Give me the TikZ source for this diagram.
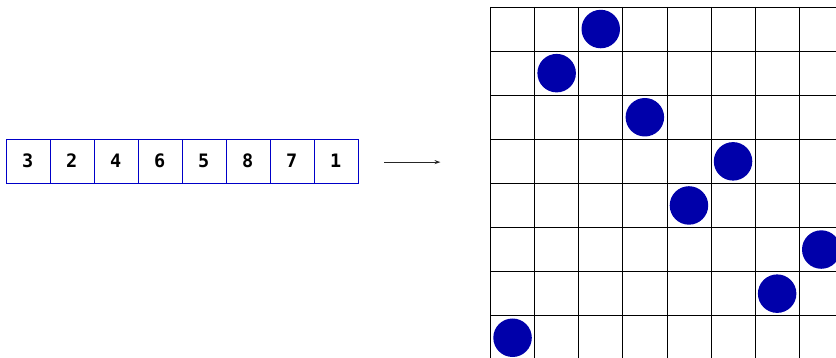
\documentclass[tikz,border=0pt]{standalone}
\usepackage{fontspec}
\newfontfamily\digitfont{DejaVu Sans Mono}
\usetikzlibrary{arrows.meta}
\definecolor{boxblue}{RGB}{0,0,200}
\definecolor{dotblue}{RGB}{0,0,170}
\tikzset{
  cell/.style={draw=boxblue, line width=0.9pt, minimum width=44pt, minimum height=43.7pt,
    inner sep=0pt, font=\digitfont\bfseries\fontsize{18.5}{18.5}\selectfont, anchor=north west},
  dot/.style={circle, fill=dotblue, minimum size=38.5pt, inner sep=0pt},
  gridline/.style={black, line width=0.8pt},
  link/.style={draw=black!85, line width=1pt, -{Stealth[length=6pt,width=4pt]}}
}
\begin{document}
\begin{tikzpicture}[x=1pt, y=-1pt]
\useasboundingbox (0,0) rectangle (836,358);
\clip (0,0) rectangle (836,358);
% array
\foreach \v [count=\i from 0] in {3,2,4,6,5,8,7,1} {
  \node[cell] (a\i) at ({6.3+44*\i},139) {\hspace*{-2pt}\vphantom{0123456789}\v};
}
% grid
\coordinate (g) at (490.5,7);
\foreach \k in {0,...,8} {
  \draw[gridline] ({490.5+44.1*\k},7) -- ({490.5+44.1*\k},363);
  \draw[gridline] (490.5,{7+44.1*\k}) -- (860,{7+44.1*\k});
}
% dots: row r (from top) -> column c
\foreach \c [count=\r from 0] in {2,1,3,5,4,7,6,0} {
  \node[dot] (d\r) at ({490.5+44.1*\c+22.05},{7+44.1*\r+22.05}) {};
}
% arrow
\draw[link] ([xshift=25pt,yshift=-0.8pt]a7.east) -- ([xshift=-50pt,yshift=-0.8pt]g |- a7.east);
\end{tikzpicture}
\end{document}
